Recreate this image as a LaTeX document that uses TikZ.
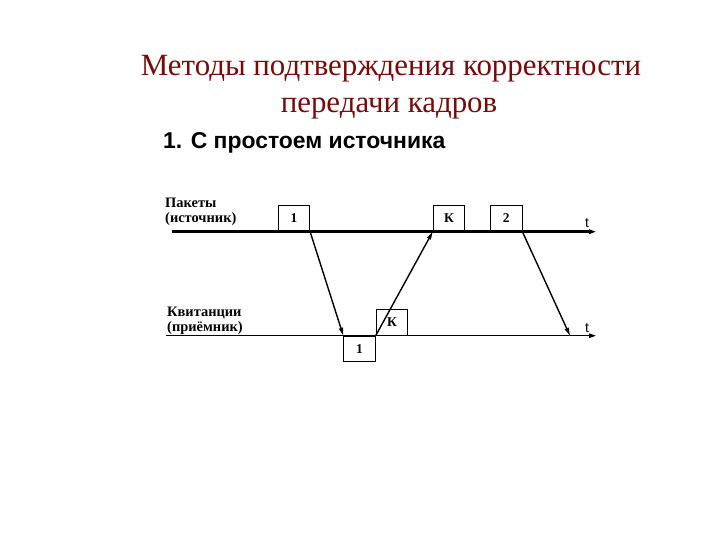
\documentclass[tikz,border=0pt]{standalone}
\usepackage{fontspec}
\setmainfont{Liberation Serif}
\setsansfont{Liberation Sans}
\usepackage{xcolor}
\usetikzlibrary{arrows.meta}
\definecolor{titlered}{HTML}{7A0A0A}

\begin{document}
\begin{tikzpicture}[x=1bp,y=-1bp,
  pkt/.style={draw,line width=0.9bp,minimum width=31.5bp,minimum height=25.5bp,inner sep=0pt,
    font=\fontsize{13.5}{13.5}\selectfont\bfseries},
  lbl/.style={anchor=base west,inner sep=0pt,font=\fontsize{14.5}{15}\selectfont\bfseries},
  tlbl/.style={anchor=base,inner sep=0pt,font=\sffamily\fontsize{14}{14}\selectfont},
  msg/.style={line width=1.4bp,-{Triangle[length=8bp,width=4bp]}}]
  \useasboundingbox (0,0) rectangle (720,540);
  \node[anchor=base,inner sep=0pt,text=titlered,font=\fontsize{31}{31}\selectfont] (title1) at (391,76) {Методы подтверждения корректности};
  \node[anchor=base,inner sep=0pt,text=titlered,font=\fontsize{31}{31}\selectfont] (title2) at (389,113) {передачи кадров};
  \node[anchor=base west,inner sep=0pt,font=\sffamily\bfseries\fontsize{23}{23}\selectfont] (sub) at (163,149) {1. С простоем источника};
  \node[lbl] (src1) at (165,208) {Пакеты};
  \node[lbl] (src2) at (165,223) {(источник)};
  \node[lbl] (rcv1) at (167,316) {Квитанции};
  \node[lbl] (rcv2) at (167,331) {(приёмник)};
  \coordinate (s0) at (172,231.7);
  \coordinate (s1) at (596,231.7);
  \coordinate (r0) at (166,335.7);
  \coordinate (r1) at (596,335.7);
  \draw[line width=2.4bp,-{Triangle[length=7bp,width=4.5bp]}] (s0) -- (s1);
  \draw[line width=1.2bp,-{Triangle[length=7bp,width=4.5bp]}] (r0) -- (r1);
  \node[tlbl] (ts) at (587,228) {t};
  \node[tlbl] (tr) at (587,332) {t};
  \node[pkt,anchor=south west] (p1) at (277.7,231.7) {1};
  \node[pkt,anchor=south west] (pk) at (432.7,231.7) {К};
  \node[pkt,anchor=south west] (p2) at (490,231.7) {2};
  \node[pkt,anchor=north west] (q1) at (343.3,335.7) {1};
  \node[pkt,anchor=south west] (qk) at (375.7,335.7) {К};
  \coordinate (e2) at (570,335.7);
  \draw[msg] (p1.south east) -- (q1.north west);
  \draw[msg] (q1.north east) -- (pk.south west);
  \draw[msg] (p2.south east) -- (e2);
\end{tikzpicture}
\end{document}
